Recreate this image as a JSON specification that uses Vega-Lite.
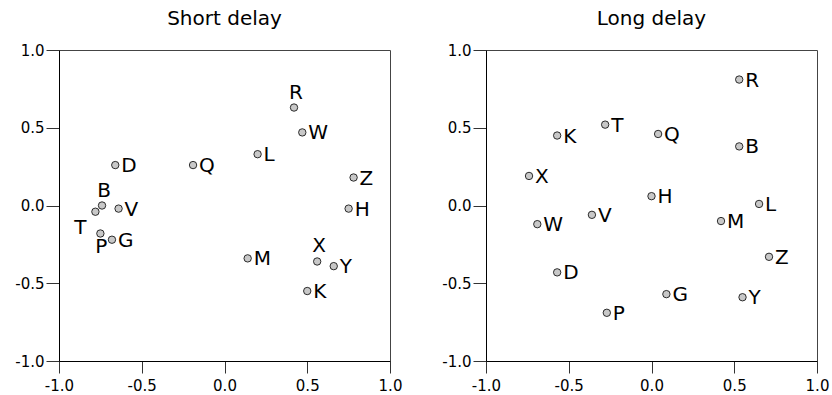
{
  "$schema": "https://vega.github.io/schema/vega-lite/v6.json",
  "background": "white",
  "padding": {"left": 14, "top": 8, "right": 5, "bottom": 0},
  "spacing": 96,
  "bounds": "flush",
  "config": {
    "font": "DejaVu Sans",
    "view": {"stroke": "#444", "strokeWidth": 1},
    "axis": {
      "grid": false,
      "title": null,
      "domainColor": "black",
      "domainWidth": 1,
      "tickColor": "#333",
      "tickSize": 13,
      "labelPadding": 2,
      "labelFont": "DejaVu Sans",
      "labelFontSize": 15,
      "labelColor": "black",
      "labelFlush": false,
      "labelOverlap": false
    },
    "axisX": {"tickSize": 12, "labelPadding": 5},
    "title": {"font": "DejaVu Sans", "fontSize": 20, "fontWeight": "normal", "color": "black", "offset": 14}
  },
  "datasets": {
    "short": [
      {"name": "R", "x": 0.42, "y": 0.63},
      {"name": "W", "x": 0.47, "y": 0.47},
      {"name": "L", "x": 0.20, "y": 0.33},
      {"name": "D", "x": -0.66, "y": 0.26},
      {"name": "Q", "x": -0.19, "y": 0.26},
      {"name": "Z", "x": 0.78, "y": 0.18},
      {"name": "B", "x": -0.74, "y": 0.00},
      {"name": "T", "x": -0.78, "y": -0.04},
      {"name": "V", "x": -0.64, "y": -0.02},
      {"name": "P", "x": -0.75, "y": -0.18},
      {"name": "G", "x": -0.68, "y": -0.22},
      {"name": "M", "x": 0.14, "y": -0.34},
      {"name": "X", "x": 0.56, "y": -0.36},
      {"name": "Y", "x": 0.66, "y": -0.39},
      {"name": "K", "x": 0.50, "y": -0.55},
      {"name": "H", "x": 0.75, "y": -0.02}
    ],
    "long": [
      {"name": "R", "x": 0.53, "y": 0.81},
      {"name": "T", "x": -0.28, "y": 0.52},
      {"name": "K", "x": -0.57, "y": 0.45},
      {"name": "Q", "x": 0.04, "y": 0.46},
      {"name": "B", "x": 0.53, "y": 0.38},
      {"name": "X", "x": -0.74, "y": 0.19},
      {"name": "H", "x": 0.00, "y": 0.06},
      {"name": "L", "x": 0.65, "y": 0.01},
      {"name": "V", "x": -0.36, "y": -0.06},
      {"name": "W", "x": -0.69, "y": -0.12},
      {"name": "M", "x": 0.42, "y": -0.10},
      {"name": "Z", "x": 0.71, "y": -0.33},
      {"name": "D", "x": -0.57, "y": -0.43},
      {"name": "G", "x": 0.09, "y": -0.57},
      {"name": "Y", "x": 0.55, "y": -0.59},
      {"name": "P", "x": -0.27, "y": -0.69}
    ]
  },
  "hconcat": [
    {
      "title": "Short delay",
      "width": 331,
      "height": 311,
      "data": {"name": "short"},
      "encoding": {
        "x": {"field": "x", "type": "quantitative", "scale": {"domain": [-1, 1], "nice": false, "zero": false}, "axis": {"values": [-1, -0.5, 0, 0.5, 1], "format": ".1f", "labelExpr": "replace(datum.label, '\u2212', '-')"}},
        "y": {"field": "y", "type": "quantitative", "scale": {"domain": [-1, 1], "nice": false, "zero": false}, "axis": {"values": [-1, -0.5, 0, 0.5, 1], "format": ".1f", "labelExpr": "replace(datum.label, '\u2212', '-')"}}
      },
      "layer": [
        {"mark": {"type": "circle", "size": 55, "fill": "#c8c8c8", "stroke": "black", "strokeWidth": 0.8, "opacity": 1}},
        {
          "transform": [{"filter": "indexof(['R','B','X','T','P'], datum.name) < 0"}],
          "mark": {"type": "text", "align": "left", "baseline": "middle", "dx": 6, "dy": 1, "fontSize": 20, "color": "black"},
          "encoding": {"text": {"field": "name"}}
        },
        {
          "transform": [{"filter": "indexof(['R','B','X'], datum.name) >= 0"}],
          "mark": {"type": "text", "align": "center", "baseline": "alphabetic", "dx": 2, "dy": -9, "fontSize": 20, "color": "black"},
          "encoding": {"text": {"field": "name"}}
        },
        {
          "transform": [{"filter": "datum.name == 'T'"}],
          "mark": {"type": "text", "align": "right", "baseline": "middle", "dx": -9, "dy": 16, "fontSize": 20, "color": "black"},
          "encoding": {"text": {"field": "name"}}
        },
        {
          "transform": [{"filter": "datum.name == 'P'"}],
          "mark": {"type": "text", "align": "center", "baseline": "alphabetic", "dx": 1, "dy": 20, "fontSize": 20, "color": "black"},
          "encoding": {"text": {"field": "name"}}
        }
      ]
    },
    {
      "title": "Long delay",
      "width": 331,
      "height": 311,
      "data": {"name": "long"},
      "encoding": {
        "x": {"field": "x", "type": "quantitative", "scale": {"domain": [-1, 1], "nice": false, "zero": false}, "axis": {"values": [-1, -0.5, 0, 0.5, 1], "format": ".1f", "labelExpr": "replace(datum.label, '\u2212', '-')"}},
        "y": {"field": "y", "type": "quantitative", "scale": {"domain": [-1, 1], "nice": false, "zero": false}, "axis": {"values": [-1, -0.5, 0, 0.5, 1], "format": ".1f", "labelExpr": "replace(datum.label, '\u2212', '-')"}}
      },
      "layer": [
        {"mark": {"type": "circle", "size": 55, "fill": "#c8c8c8", "stroke": "black", "strokeWidth": 0.8, "opacity": 1}},
        {
          "mark": {"type": "text", "align": "left", "baseline": "middle", "dx": 6, "dy": 1, "fontSize": 20, "color": "black"},
          "encoding": {"text": {"field": "name"}}
        }
      ]
    }
  ]
}
